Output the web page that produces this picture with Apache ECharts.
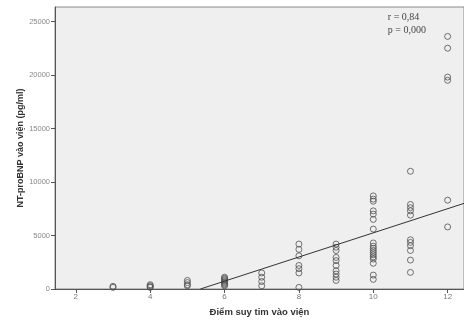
<!DOCTYPE html>
<html>
<head>
<meta charset="utf-8">
<script src="https://cdn.jsdelivr.net/npm/echarts@6/dist/echarts.min.js"></script>
<style>
  html, body { margin: 0; padding: 0; background: #fff; }
  #chart { width: 464px; height: 322px; }
</style>
</head>
<body>
<div id="chart"></div>
<script>
// điểm suy tim (x) và NT-proBNP (y) theo từng cột
var scores = [3, 4, 5, 6, 7, 8, 9, 10, 11, 12];
var bnpByScore = [
    [250, 150],
    [400, 300, 200, 150],
    [800, 600, 400, 300],
    [1100, 1000, 900, 800, 700, 600, 500, 400, 300],
    [1500, 1100, 700, 300],
    [4200, 3700, 3100, 2200, 1900, 1500, 150],
    [4200, 3900, 3600, 2950, 2650, 2200, 1700, 1400, 1100, 800],
    [8700, 8400, 8200, 7300, 7000, 6500, 5600, 4300, 4000, 3800, 3600, 3400, 3200, 3000, 2800, 2400, 1300, 900],
    [11000, 7900, 7600, 7300, 6900, 4600, 4350, 4050, 3600, 2700, 1550],
    [23600, 22500, 19800, 19500, 8300, 5800]
];
// đường hồi quy (từ chỗ cắt trục 0 đến mép phải)
var fitX = [5.35, 12.44];
var fitY = [0, 8000];
var xTicks = [2, 4, 6, 8, 10, 12];
var yTicks = [0, 5000, 10000, 15000, 20000, 25000];
var statLines = ['r = 0,84', 'p = 0,000'];

var points = [];
scores.forEach(function (s, i) {
    bnpByScore[i].forEach(function (v) { points.push([s, v]); });
});

var chart = echarts.init(document.getElementById('chart'));
chart.setOption({
    animation: false,
    backgroundColor: '#ffffff',
    grid: {
        left: 55, top: 7, right: -1, bottom: 32,
        show: true,
        backgroundColor: '#efefef',
        borderColor: '#8a8a8a',
        borderWidth: 1
    },
    xAxis: {
        type: 'value',
        min: 1.44,
        max: 12.44,
        name: 'Điểm suy tim vào viện',
        nameLocation: 'middle',
        nameGap: 18,
        nameTextStyle: { fontFamily: 'Liberation Sans', fontWeight: 'bold', fontSize: 9.5, color: '#333' },
        splitLine: { show: false },
        axisLine: { lineStyle: { color: '#555', width: 1 } },
        axisTick: { customValues: xTicks, length: 4, lineStyle: { color: '#555' } },
        axisLabel: { customValues: xTicks, fontFamily: 'Liberation Sans', fontSize: 8, color: '#777', margin: 4 }
    },
    yAxis: {
        type: 'value',
        min: 0,
        max: 26350,
        name: 'NT-proBNP vào viện (pg/ml)',
        nameLocation: 'middle',
        nameGap: 30,
        nameMoveOverlap: false,
        nameTextStyle: { fontFamily: 'Liberation Sans', fontWeight: 'bold', fontSize: 9, color: '#333' },
        splitLine: { show: false },
        axisLine: { show: true, lineStyle: { color: '#555', width: 1 } },
        axisTick: { show: true, customValues: yTicks, length: 4, lineStyle: { color: '#555' } },
        axisLabel: {
            customValues: yTicks,
            formatter: function (v) { return String(v); },
            fontFamily: 'Liberation Sans', fontSize: 7.5, color: '#888', margin: 5
        }
    },
    graphic: [{
        type: 'text',
        right: 38,
        top: 11,
        style: {
            text: statLines.join('\n'),
            align: 'right',
            fontFamily: 'Liberation Serif',
            fontSize: 10,
            lineHeight: 13,
            fill: '#444'
        }
    }],
    series: [
        {
            type: 'scatter',
            data: points,
            symbol: 'circle',
            symbolSize: 6,
            itemStyle: { color: 'rgba(0,0,0,0)', borderColor: '#505050', borderWidth: 1 }
        },
        {
            type: 'line',
            data: [[fitX[0], fitY[0]], [fitX[1], fitY[1]]],
            symbol: 'none',
            lineStyle: { color: '#333', width: 1 }
        }
    ]
});
</script>
</body>
</html>
